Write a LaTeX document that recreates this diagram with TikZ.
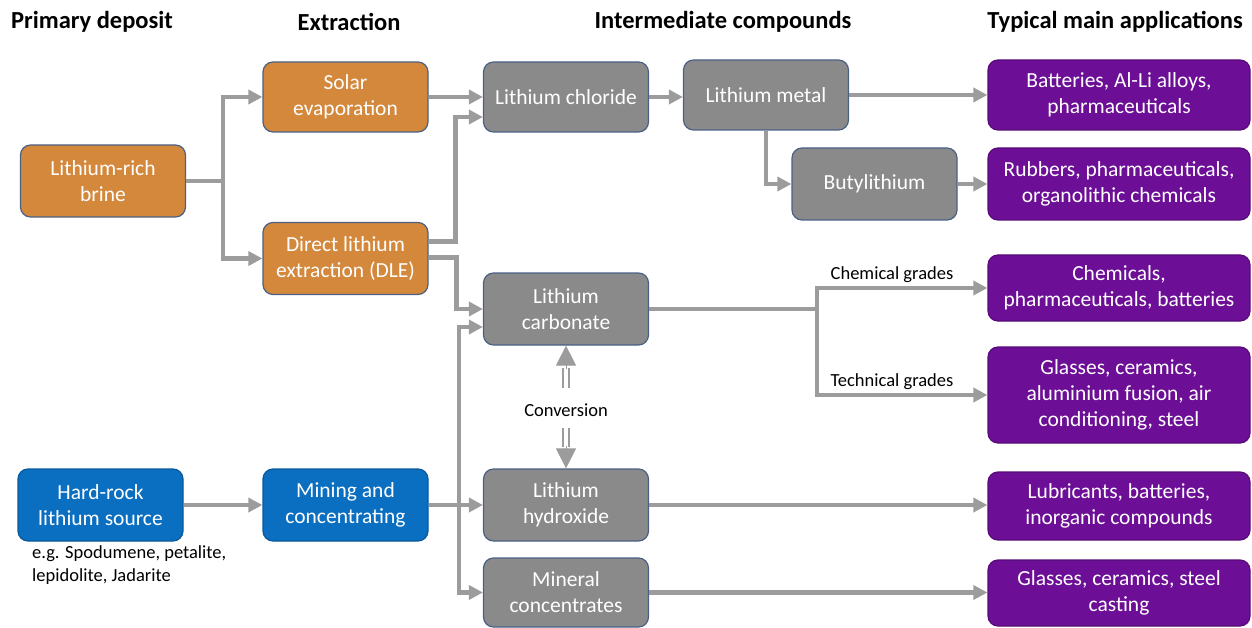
\documentclass[tikz,border=0pt]{standalone}
\usepackage{fontspec}
\setmainfont{Carlito}
\usetikzlibrary{positioning,arrows.meta}

\definecolor{brineorange}{HTML}{D4883C}
\definecolor{rockblue}{HTML}{0B6FC1}
\definecolor{cmpdgray}{HTML}{8A8A8A}
\definecolor{apppurple}{HTML}{6D0E96}
\definecolor{edgeblue}{HTML}{4A6184}
\definecolor{linegray}{HTML}{9C9C9C}

\begin{document}
\begin{tikzpicture}[
  x=1pt, y=-1pt,
  >={Triangle[length=14pt,width=14pt]},
  font=\fontsize{21.5}{26}\selectfont,
  box/.style={draw=edgeblue,line width=1.2pt,rounded corners=10pt,text=white,
    align=center,minimum width=165pt,minimum height=72pt,inner sep=2pt},
  brine/.style={box,fill=brineorange},
  rock/.style={box,fill=rockblue,draw=rockblue!80!black},
  compound/.style={box,fill=cmpdgray},
  app/.style={box,fill=apppurple,draw=apppurple!80!black,minimum width=262pt},
  head/.style={font=\fontsize{24.5}{29}\selectfont\bfseries},
  note/.style={font=\fontsize{18.5}{23}\selectfont},
  flow/.style={->,draw=linegray,line width=4.5pt},
  dshaft/.style={draw=linegray,line width=2.2pt,double=white,double distance=3.2pt},
  dtip/.style={-{Triangle[length=20pt,width=20pt]},draw=linegray,line width=1pt}
]
  \useasboundingbox (0,0) rectangle (1252,628);

  % column headings
  \node[head] (hdep) at (92,22) {Primary deposit};
  \node[head] (hext) at (349,22) {Extraction};
  \node[head] (hint) at (723,22) {Intermediate compounds};
  \node[head] (happ) at (1115,22) {Typical main applications};

  % deposits and extraction
  \node[brine] (brine) at (103,181) {Lithium-rich\\brine};
  \node[brine,minimum height=70pt] (solar) at (345.5,97) {Solar\\evaporation};
  \node[brine] (dle) at (345.5,258.5) {Direct lithium\\extraction (DLE)};
  \node[rock] (rock) at (100.5,505) {Hard-rock\\lithium source};
  \node[note,align=left,anchor=north west,inner sep=2pt] (eg) at (30,543)
    {e.g. Spodumene, petalite,\\lepidolite, Jadarite};
  \node[rock] (mining) at (345.5,505) {Mining and\\concentrating};

  % intermediate compounds
  \node[compound,minimum height=70pt] (chloride) at (566,97) {Lithium chloride};
  \node[compound] (carbonate) at (566,309) {Lithium\\carbonate};
  \node[compound] (hydroxide) at (566,505) {Lithium\\hydroxide};
  \node[compound,minimum height=69pt] (mineral) at (566,592.5) {Mineral\\concentrates};
  \node[compound,minimum height=70pt] (metal) at (766,95) {Lithium metal};
  \node[compound] (butyl) at (874.5,184) {Butylithium};
  \node[note,inner sep=0pt] (conv) at (566,410) {Conversion};

  % applications
  \node[app,minimum height=70pt] (a1) at (1119,95) {Batteries, Al-Li alloys,\\pharmaceuticals};
  \node[app] (a2) at (1119,184) {Rubbers, pharmaceuticals,\\organolithic chemicals};
  \node[app,minimum height=66pt] (a3) at (1119,288) {Chemicals,\\pharmaceuticals, batteries};
  \node[app,minimum height=96pt] (a4) at (1119,395) {Glasses, ceramics,\\aluminium fusion, air\\conditioning, steel};
  \node[app,minimum height=68pt] (a5) at (1119,506) {Lubricants, batteries,\\inorganic compounds};
  \node[app,minimum height=66pt] (a6) at (1119,593) {Glasses, ceramics, steel\\casting};

  % brine route
  \coordinate (bsplit) at (223,181);
  \draw[flow,-] (brine.east) -- (bsplit);
  \draw[flow] (bsplit) |- (solar.west);
  \draw[flow] (bsplit) |- (dle.west);
  \draw[flow] (solar.east) -- (chloride.west);
  \draw[flow] ([yshift=17pt]dle.east) -- ++(27,0) |- ([yshift=-20pt]chloride.west);
  \draw[flow] ([yshift=1pt]dle.east) -- ++(28,0) |- (carbonate.west);

  % hard-rock route
  \coordinate (mjoin) at (459,505);
  \draw[flow] (rock.east) -- (mining.west);
  \draw[flow] (mining.east) -- (hydroxide.west);
  \draw[flow] (mjoin) |- ([yshift=-18pt]carbonate.west);
  \draw[flow] (mjoin) |- (mineral.west);

  % chloride to metal and butylithium
  \draw[flow] (chloride.east) -- (chloride.east -| metal.west);
  \draw[flow] (metal.east) -- (a1.west);
  \draw[flow] (metal.south) |- (butyl.west);
  \draw[flow] (butyl.east) -- (a2.west);

  % carbonate grades
  \coordinate (gsplit) at (817,309);
  \draw[flow,-] (carbonate.east) -- (gsplit);
  \draw[flow] (gsplit) |- node[note,above,pos=0.72,inner sep=3pt]{Chemical grades} (a3.west);
  \draw[flow] (gsplit) |- node[note,above,pos=0.72,inner sep=3pt]{Technical grades} (a4.west);
  \draw[flow] (hydroxide.east) -- (hydroxide.east -| a5.west);
  \draw[flow] (mineral.east) -- (mineral.east -| a6.west);

  % conversion carbonate <-> hydroxide
  \draw[dshaft] ([yshift=15.5pt]conv.north) -- ([yshift=-22pt]carbonate.south);
  \draw[dtip] ([yshift=-23pt]carbonate.south) -- (carbonate.south);
  \draw[dshaft] ([yshift=-11.5pt]conv.south) -- ([yshift=21pt]hydroxide.north);
  \draw[dtip] ([yshift=22pt]hydroxide.north) -- (hydroxide.north);
\end{tikzpicture}
\end{document}
